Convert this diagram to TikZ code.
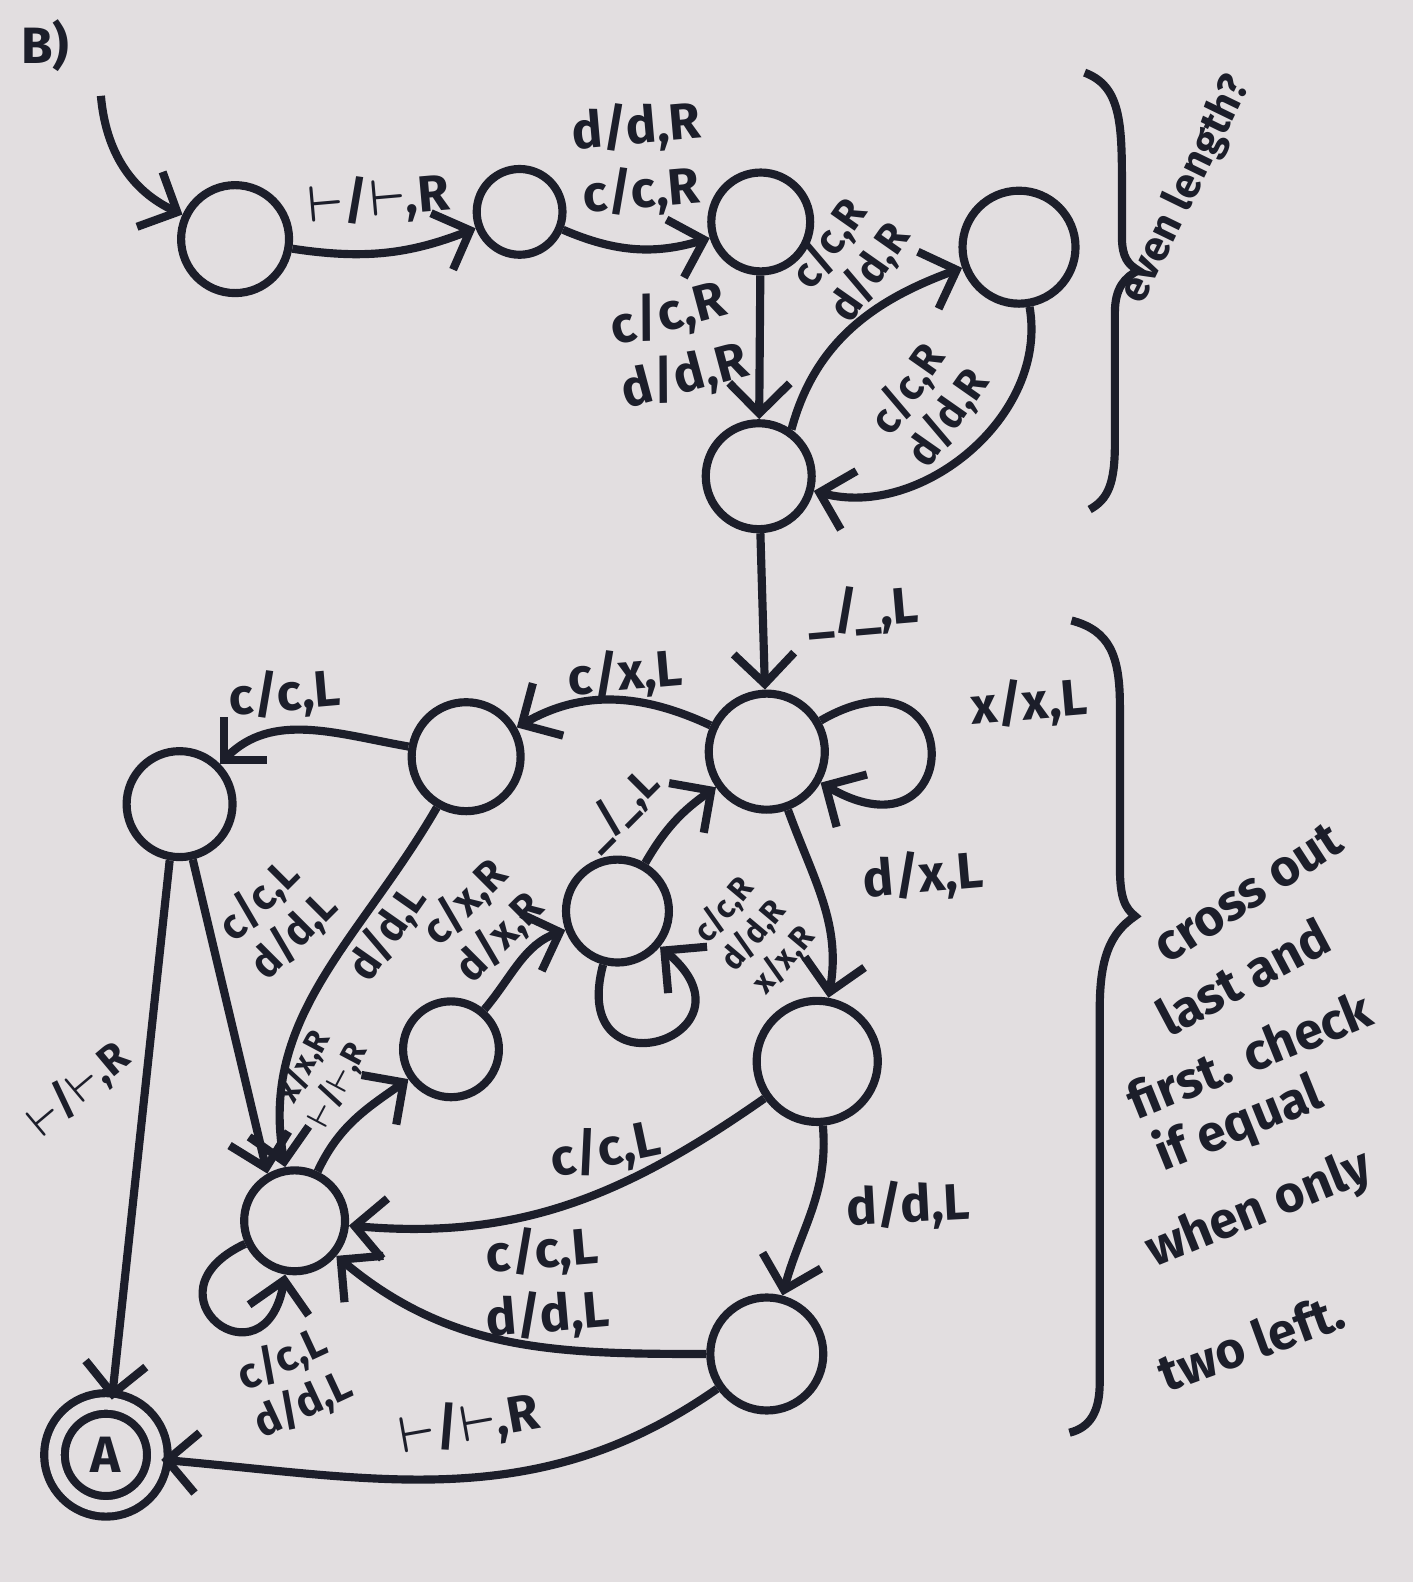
\documentclass[tikz,border=0pt]{standalone}
\usepackage{fontspec}
\setsansfont{Fira Sans}
\usepackage{bm}
\usetikzlibrary{arrows.meta}
\definecolor{paper}{RGB}{226,222,224}
\definecolor{ink}{RGB}{28,30,42}
\newcommand{\tack}{$\bm{\vdash}$}
\tikzset{
  state/.style={draw=ink, circle, line width=2.3pt, minimum size=1.05cm, inner sep=0pt},
  lbl/.style={text=ink, font=\sffamily\bfseries\Large, align=center, inner sep=1pt},
  lblmid/.style={lbl, font=\sffamily\bfseries\large},
  lblsmall/.style={lbl, font=\sffamily\bfseries\small},
  note/.style={text=ink, font=\sffamily\bfseries\Large},
}
\begin{document}
\begin{tikzpicture}[>={Straight Barb[length=3mm,width=6mm]}, line width=2.3pt, color=ink]
\fill[paper] (0,0) rectangle (14,-15.68);
\useasboundingbox (0,0) rectangle (14,-15.68);

% even length check
\node[state, minimum size=1.07cm] (q0) at (2.33,-2.37) {};
\node[state, minimum size=0.85cm] (q1) at (5.15,-2.10) {};
\node[state, minimum size=0.98cm] (q2) at (7.54,-2.20) {};
\node[state, minimum size=1.12cm] (q3) at (10.10,-2.45) {};
\node[state] (q4) at (7.52,-4.72) {};
% cross out last and first
\node[state, minimum size=1.15cm] (q5) at (7.60,-7.45) {};
\node[state, minimum size=1.08cm] (q6) at (4.62,-7.50) {};
\node[state] (q7) at (1.78,-7.97) {};
\node[state, minimum size=1.02cm] (q8) at (6.12,-9.03) {};
\node[state, minimum size=0.95cm] (q9) at (4.47,-10.40) {};
\node[state, minimum size=1.2cm] (q10) at (8.10,-10.52) {};
\node[state, minimum size=1.0cm] (q11) at (2.92,-12.10) {};
\node[state, minimum size=1.12cm] (q12) at (7.60,-13.42) {};
\node[state, minimum size=1.02cm, double=paper, double distance=3.5pt, font=\sffamily\bfseries\Large] (acc) at (1.05,-14.42) {A};

\node[note] (tag) at (0.45,-0.45) {B)};
\coordinate (start) at (1.00,-0.95);
\draw[->] (start) to[out=-85,in=155] (q0);

\draw[->] (q0) to[bend right=15] (q1);
\draw[->] (q1) to[bend right=20] (q2);
\draw[->] (q2) -- (q4);
\draw[->] (q4.55) to[out=75,in=200] (q3);
\draw[->] (q3) to[out=-80,in=-15] (q4);
\draw[->] (q4) -- (q5);
\draw[->] (q5) to[out=30,in=-30,looseness=7] (q5);
\draw[->] (q5) to[out=155,in=30] (q6);
\draw[->] (q6) to[out=170,in=45] (q7);
\draw[->] (q7) -- (q11.120);
\draw[->] (q7.-100) -- (acc);
\draw[->] (q6) to[out=-120,in=100] (q11);
\draw[->] (q11) to[out=65,in=215] (q9);
\draw[->] (q9) to[out=50,in=200] (q8);
\draw[->] (q8) to[out=-105,in=-40,looseness=6] (q8);
\draw[->] (q8) to[out=60,in=215] (q5);
\draw[->] (q5) to[out=-70,in=80] (q10);
\draw[->] (q10) to[out=215,in=-5] (q11);
\draw[->] (q10) to[out=-85,in=75] (q12);
\draw[->] (q12) to[out=180,in=-40] (q11);
\draw[->] (q11) to[out=205,in=-100,looseness=6] (q11);
\draw[->] (q12) to[out=215,in=-5] (acc);

\node[lbl, rotate=5] (t1) at (3.75,-1.98) {\tack/\tack,R};
\node[lbl, rotate=5] (t2) at (6.33,-1.58) {d/d,R\\c/c,R};
\node[lbl, rotate=15] (t3) at (6.70,-3.42) {c/c,R\\d/d,R};
\node[lblmid, rotate=55] (t4) at (8.42,-2.56) {c/c,R\\d/d,R};
\node[lblmid, rotate=55] (t5) at (9.20,-4.00) {c/c,R\\d/d,R};
\node[lbl, rotate=5] (t6) at (8.55,-6.05) {\_/\_,L};
\node[lbl, rotate=5] (t7) at (10.20,-6.97) {x/x,L};
\node[lbl, rotate=5] (t8) at (6.20,-6.68) {c/x,L};
\node[lbl, rotate=5] (t9) at (2.82,-6.88) {c/c,L};
\node[lblmid, rotate=45] (t10) at (2.74,-9.10) {c/c,L\\d/d,L};
\node[lblmid, rotate=40] (t11) at (0.78,-10.80) {\tack/\tack,R};
\node[lblmid, rotate=55] (t12) at (3.84,-9.25) {d/d,L};
\node[lblsmall, rotate=62] (t13) at (3.18,-10.66) {x/x,R\\\tack/\tack,R};
\node[lblmid, rotate=45] (t14) at (4.78,-9.12) {c/x,R\\d/x,R};
\node[lblsmall, rotate=50] (t15) at (7.47,-9.27) {c/c,R\\d/d,R\\x/x,R};
\node[lblmid, rotate=45] (t16) at (6.14,-8.02) {\_/\_,L};
\node[lbl, rotate=5] (t17) at (9.15,-8.68) {d/x,L};
\node[lbl, rotate=12] (t18) at (6.00,-11.40) {c/c,L};
\node[lbl, rotate=3] (t19) at (9.00,-11.95) {d/d,L};
\node[lbl, rotate=5] (t20) at (5.40,-12.72) {c/c,L\\d/d,L};
\node[lblmid, rotate=25] (t21) at (2.90,-13.70) {c/c,L\\d/d,L};
\node[lbl, rotate=10] (t22) at (4.65,-14.12) {\tack/\tack,R};

% braces and notes
\draw (10.75,-0.72) .. controls (11.10,-0.85) and (11.12,-1.20) .. (11.12,-1.80)
  -- (11.12,-2.35) .. controls (11.12,-2.55) and (11.18,-2.62) .. (11.28,-2.68)
  .. controls (11.15,-2.75) and (11.05,-2.85) .. (11.05,-3.10)
  -- (11.05,-4.40) .. controls (11.05,-4.80) and (10.98,-4.95) .. (10.80,-5.05);
\node[note, font=\sffamily\bfseries\large, rotate=64] (even) at (11.76,-1.88) {even length?};

\draw (10.62,-6.15) .. controls (11.00,-6.25) and (11.10,-6.50) .. (11.10,-7.00)
  -- (11.10,-8.60) .. controls (11.10,-8.90) and (11.15,-9.00) .. (11.25,-9.08)
  .. controls (11.00,-9.25) and (10.90,-9.50) .. (10.90,-10.00)
  -- (10.90,-13.70) .. controls (10.90,-14.00) and (10.80,-14.15) .. (10.60,-14.20);
\foreach \i/\x/\y/\r/\t in {1/12.37/-8.85/33/cross out, 2/12.32/-9.68/28/last and,
    3/12.38/-10.45/22/first. check, 4/12.28/-11.15/22/if equal,
    5/12.48/-12.00/22/when only, 6/12.40/-13.30/20/two left.}
  \node[note, rotate=\r] (n\i) at (\x,\y) {\t};
\end{tikzpicture}
\end{document}
